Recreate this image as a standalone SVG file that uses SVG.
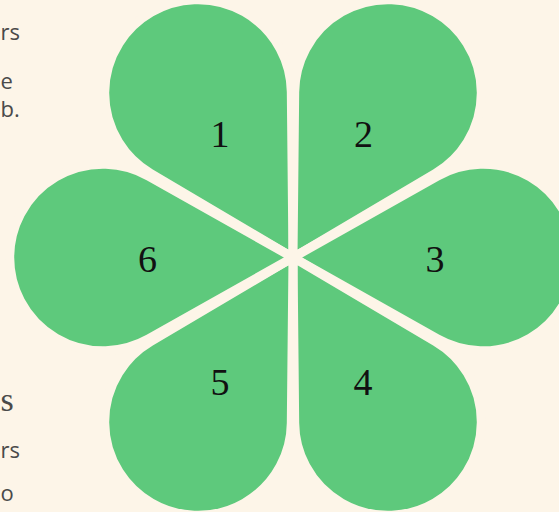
<svg xmlns="http://www.w3.org/2000/svg" width="559" height="512" viewBox="0 0 559 512">
  <style>
    .petal { fill: #5ec97c; stroke: #fdf5e8; stroke-width: 9; stroke-linejoin: miter; }
    .num { font-family: "Liberation Serif", "DejaVu Serif", serif; font-size: 38px; fill: #111; text-anchor: middle; }
    .side { font-family: "Open Sans", "Noto Sans", sans-serif; font-size: 22px; fill: #4a4a4a; text-anchor: start; }
    .sideSerif { font-family: "Liberation Serif", "DejaVu Serif", serif; font-size: 34px; fill: #4a4a4a; text-anchor: start; }
  </style>
  <defs>
    <path id="drop" d="M0,0 L144.17,-81.28 A93.3,93.3 0 1 1 144.17,81.28 Z"/>
  </defs>
  <rect width="559" height="512" fill="#fdf5e8"/>
  <g id="sidebar-text">
    <text class="side" x="0.5" y="40">rs</text>
    <text class="side" x="0.5" y="89">e</text>
    <text class="side" x="0.5" y="117">b.</text>
    <text class="sideSerif" x="0.5" y="411">s</text>
    <text class="side" x="0.5" y="458">rs</text>
    <text class="side" x="0.5" y="501">o</text>
  </g>
  <g id="petal-1"><use href="#drop" class="petal" transform="translate(293,257.5) rotate(-120)"/><text class="num" x="220" y="147">1</text></g>
  <g id="petal-2"><use href="#drop" class="petal" transform="translate(293,257.5) rotate(-60)"/><text class="num" x="363.5" y="147">2</text></g>
  <g id="petal-3"><use href="#drop" class="petal" transform="translate(293,257.5) rotate(0)"/><text class="num" x="435" y="271.5">3</text></g>
  <g id="petal-4"><use href="#drop" class="petal" transform="translate(293,257.5) rotate(60)"/><text class="num" x="363" y="395">4</text></g>
  <g id="petal-5"><use href="#drop" class="petal" transform="translate(293,257.5) rotate(120)"/><text class="num" x="220" y="395">5</text></g>
  <g id="petal-6"><use href="#drop" class="petal" transform="translate(293,257.5) rotate(180)"/><text class="num" x="147.5" y="271.5">6</text></g>
</svg>
